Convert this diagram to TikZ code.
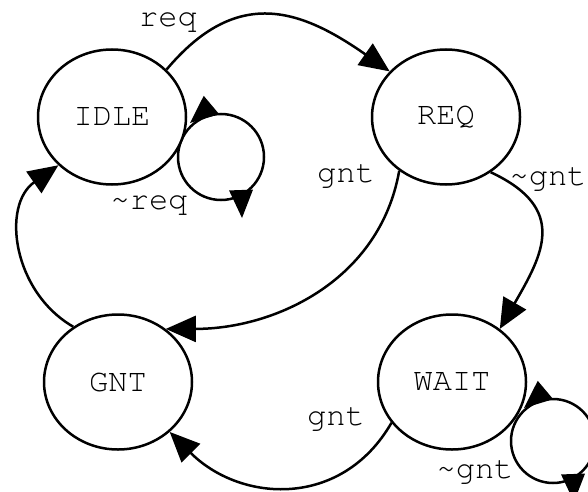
\documentclass[tikz,border=0pt]{standalone}
\usepackage[T1]{fontenc}
\renewcommand{\ttdefault}{pcr}
\usetikzlibrary{arrows.meta,shapes.geometric}

% filled arrow head sitting on a self loop
\newcommand{\looptip}[2]{\fill[shift={(#1)},rotate=#2] (0,0) -- (-28,12) -- (-28,-12) -- cycle;}

\begin{document}
\begin{tikzpicture}[x=1pt,y=1pt,line width=2.5pt,
    lbl/.style={font=\ttfamily\fontsize{32}{36}\selectfont,anchor=base,inner sep=0pt}]
    \useasboundingbox (0,0) rectangle (588,491);
    \clip (0,0) rectangle (588,491);

    % self loops first, the states cover them
    \coordinate (idleloop) at (221,334);
    \coordinate (waitloop) at (553,50);
    \draw (idleloop) circle[radius=43];
    \draw (waitloop) circle[radius=42];

    \begin{scope}[every node/.style={ellipse,draw,fill=white,inner sep=0pt,
                  minimum width=148pt,minimum height=135pt,
                  font=\ttfamily\fontsize{32}{36}\selectfont}]
        \node (idle) at (112,374) {IDLE};
        \node (req)  at (446,374) {REQ};
        \node (gnt)  at (118,109) {GNT};
        \node (wait) at (452,109) {WAIT};
    \end{scope}

    \begin{scope}[>={Triangle[length=30pt,width=26pt]}]
        \draw [->] (idle.41)  to[out=50,in=145,looseness=1.25] (req.141);
        \draw [->] (req.229)  to[out=260,in=0] (gnt.48);
        \draw [->] (req.-51)  to[out=-25,in=60,looseness=1.4] (wait.48);
        \draw [->] (wait.214) to[out=240,in=-45,looseness=1.15] (gnt.-44);
        \draw [->] (gnt.129)  to[out=150,in=215,looseness=1.1] (idle.222);
    \end{scope}

    \looptip{190,368}{220}
    \looptip{242,273}{-88}
    \looptip{524,83}{220}
    \looptip{574,-11}{-88}

    \node[lbl] (lreq)     at (168,464) {req};
    \node[lbl] (lnotreq)  at (149,282) {\textasciitilde req};
    \node[lbl] (lgnt)     at (346,309) {gnt};
    \node[lbl] (lnotgnt)  at (548,306) {\textasciitilde gnt};
    \node[lbl] (lgntw)    at (336,66)  {gnt};
    \node[lbl] (lnotgntw) at (475,13)  {\textasciitilde gnt};
\end{tikzpicture}
\end{document}
